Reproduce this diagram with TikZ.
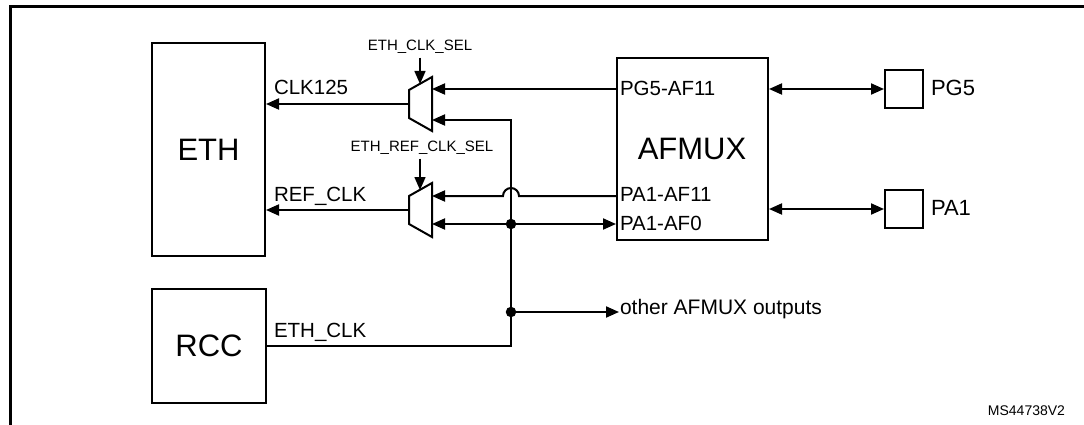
\documentclass[tikz,border=0pt]{standalone}
\usepackage{fontspec}
\setmainfont{Liberation Sans}
\usetikzlibrary{arrows.meta}
\begin{document}
\begin{tikzpicture}[x=1pt,y=-1pt,
  line width=2pt,
  box/.style={draw, line width=2pt, inner sep=0pt},
  bigtxt/.style={font=\fontsize{31}{36}\selectfont},
  lbl/.style={font=\fontsize{20.5}{24}\selectfont, inner sep=0pt},
  pinlbl/.style={font=\fontsize{22}{26}\selectfont, inner sep=0pt},
  sellbl/.style={font=\fontsize{15}{18}\selectfont, inner sep=0pt},
  arr/.style={-{Triangle[length=13pt,width=11pt]}},
  barr/.style={{Triangle[length=13pt,width=11pt]}-{Triangle[length=13pt,width=11pt]}},
  dot/.style={circle, fill, inner sep=0pt, minimum size=10.5pt}]
\useasboundingbox (0,0) rectangle (1084,425);

% frame
\draw[line width=3pt] (10,426) -- (10,7) -- (1085,7);

% blocks
\node[box, bigtxt, minimum width=113pt, minimum height=213pt] (eth) at (208.5,149.5) {ETH};
\node[box, bigtxt, minimum width=114pt, minimum height=114pt] (rcc) at (209,346) {RCC};
\node[box, minimum width=151pt, minimum height=182pt] (afmux) at (692.5,149) {};
\node[bigtxt, inner sep=0pt] (afmuxlbl) at (692,149) {AFMUX};
\node[box, minimum width=38pt, minimum height=38pt] (pg5) at (904,89) {};
\node[box, minimum width=38pt, minimum height=38pt] (pa1) at (904,209) {};
\node[pinlbl, anchor=west] (pg5lbl) at (930,88) {PG5};
\node[pinlbl, anchor=west] (pa1lbl) at (930,208) {PA1};

% AFMUX port labels
\node[lbl, anchor=west] (ppg5) at (619,88) {PG5-AF11};
\node[lbl, anchor=west] (ppa1a) at (619,194) {PA1-AF11};
\node[lbl, anchor=west] (ppa1b) at (619,223) {PA1-AF0};

% multiplexers
\coordinate (m1) at (420.5,104);
\coordinate (m2) at (420.5,210);
\draw[shift={(m1)}] (-11.5,-14) -- (11.5,-27) -- (11.5,27) -- (-11.5,14) -- cycle;
\draw[shift={(m2)}] (-11.5,-14) -- (11.5,-27) -- (11.5,27) -- (-11.5,14) -- cycle;
\coordinate (m1in1) at (432,89);
\coordinate (m1in2) at (432,120);
\coordinate (m1out) at (409,104);
\coordinate (m1sel) at (420,84);
\coordinate (m2in1) at (432,196);
\coordinate (m2in2) at (432,224);
\coordinate (m2out) at (409,210);
\coordinate (m2sel) at (420,190);

% select labels
\node[sellbl] (sel1) at (420,47) {ETH\_CLK\_SEL};
\node[sellbl] (sel2) at (422,148) {ETH\_REF\_CLK\_SEL};
\draw[arr, line width=1.5pt] ([yshift=-3pt]sel1.south -| m1sel) -- (m1sel);
\draw[arr, line width=1.5pt] ([yshift=-3pt]sel2.south -| m2sel) -- (m2sel);

% outputs to ETH
\draw[arr] (m1out) -- (m1out -| eth.east);
\draw[arr] (m2out) -- (m2out -| eth.east);
\node[lbl, anchor=base west] (clk125) at (273,95) {CLK125};
\node[lbl, anchor=base west] (refclk) at (273,201) {REF\_CLK};

% AFMUX to muxes
\draw[arr] (m1in1 -| afmux.west) -- (m1in1);
\coordinate (hop) at (511,196);
\draw[arr] (m2in1 -| afmux.west) -- ([xshift=8pt]hop) arc[start angle=0, end angle=180, radius=8pt] -- (m2in1);
\draw[barr] (m2in2) -- (m2in2 -| afmux.west);

% ETH_CLK distribution
\coordinate (vtop) at (511,120);
\draw[arr] (rcc.east) -| (vtop) -- (m1in2);
\node[lbl, anchor=base west] (ethclk) at (273,337) {ETH\_CLK};
\node[dot] (d1) at (511,224) {};
\node[dot] (d2) at (511,312) {};
\node[lbl, anchor=west, font=\fontsize{21}{24}\selectfont] (other) at (619,309) {other AFMUX outputs};
\draw[arr] (d2.center) -- (d2 -| other.west);

% pins
\draw[barr] (pg5.west -| afmux.east) -- (pg5.west);
\draw[barr] (pa1.west -| afmux.east) -- (pa1.west);

% figure id
\node[font=\fontsize{14}{16}\selectfont, inner sep=0pt, anchor=east] (msid) at (1066,411) {MS44738V2};
\end{tikzpicture}
\end{document}
